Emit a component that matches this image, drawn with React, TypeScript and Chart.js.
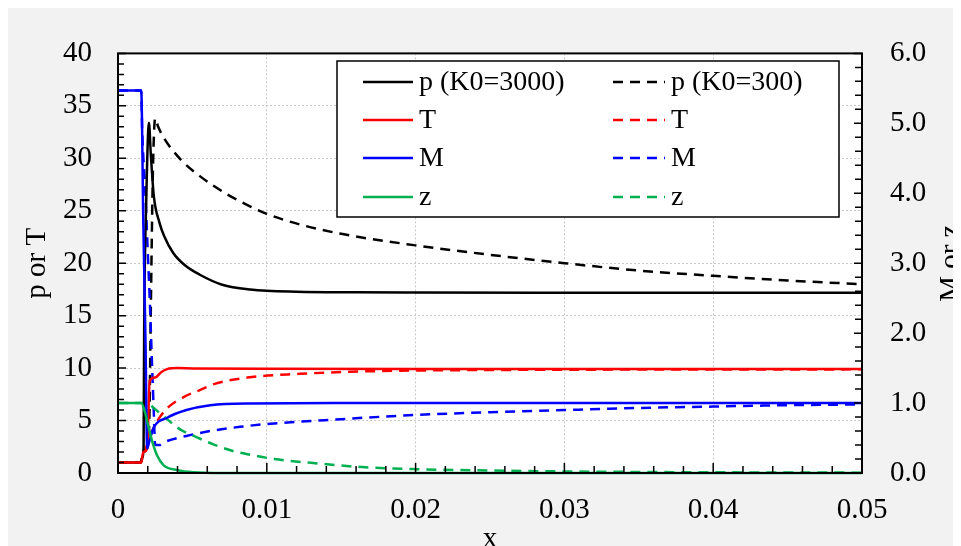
import React, { useEffect, useRef } from "react";
import { Chart, registerables } from "chart.js";

Chart.register(...registerables);

const FONT = "'Liberation Serif', 'Times New Roman', serif";

// ---- data (x in m, p/T on left axis, M/z on right axis) ----
const pHiX = [0, 0.0015, 0.00165, 0.00172, 0.00176, 0.0019, 0.00208, 0.0022, 0.0024, 0.0028, 0.0031, 0.0037, 0.0045, 0.0055, 0.007, 0.0089, 0.012, 0.016, 0.02, 0.03, 0.04, 0.05];
const pHiY = [1, 1, 1.5, 2.6, 14, 26, 33.4, 30.5, 26.5, 23.8, 22.6, 21.0, 19.8, 18.9, 17.95, 17.5, 17.28, 17.22, 17.2, 17.18, 17.18, 17.18];

const pLoX = [0, 0.0015, 0.0017, 0.002, 0.00212, 0.0022, 0.00235, 0.0025, 0.0027, 0.0031, 0.0042, 0.0055, 0.0073, 0.0089, 0.01, 0.0122, 0.015, 0.02, 0.025, 0.03, 0.035, 0.04, 0.045, 0.05];
const pLoY = [1, 1, 1.9, 2.8, 6, 15, 29, 33.8, 33.0, 31.9, 29.9, 28.3, 26.6, 25.4, 24.7, 23.7, 22.8, 21.7, 20.8, 20.0, 19.3, 18.8, 18.35, 18.0];

const tHiX = [0, 0.00155, 0.0017, 0.00196, 0.00213, 0.0025, 0.0029, 0.0033, 0.004, 0.005, 0.01, 0.02, 0.03, 0.04, 0.05];
const tHiY = [1, 1, 2.0, 2.3, 8.8, 9.1, 9.6, 9.9, 10.0, 9.97, 9.93, 9.92, 9.92, 9.92, 9.92];

const tLoX = [0, 0.00155, 0.0017, 0.002, 0.0023, 0.0028, 0.0034, 0.0045, 0.0055, 0.0065, 0.0087, 0.0122, 0.0156, 0.019, 0.025, 0.035, 0.05];
const tLoY = [1, 1, 1.9, 2.8, 4.0, 5.3, 6.3, 7.3, 7.9, 8.5, 9.1, 9.45, 9.65, 9.75, 9.82, 9.86, 9.88];

const mHiX = [0, 0.00156, 0.0017, 0.00185, 0.00196, 0.0021, 0.0024, 0.0033, 0.0046, 0.0062, 0.0089, 0.015, 0.05];
const mHiY = [5.47, 5.47, 3.6, 1.86, 0.35, 0.45, 0.65, 0.79, 0.9, 0.97, 0.995, 1.0, 1.0];

const mLoX = [0, 0.00156, 0.00162, 0.00184, 0.002, 0.00213, 0.00223, 0.0024, 0.0025, 0.0028, 0.0031, 0.0046, 0.0062, 0.0082, 0.01, 0.015, 0.02, 0.025, 0.03, 0.035, 0.04, 0.045, 0.05];
const mLoY = [5.47, 5.47, 4.93, 4.0, 3.16, 2.5, 1.9, 0.9, 0.4, 0.4, 0.44, 0.53, 0.6, 0.66, 0.7, 0.77, 0.83, 0.87, 0.9, 0.93, 0.95, 0.97, 0.98];

const zHiX = [0, 0.00156, 0.0018, 0.00196, 0.00229, 0.00263, 0.00307, 0.004, 0.0051, 0.007, 0.05];
const zHiY = [1, 1, 0.88, 0.74, 0.46, 0.25, 0.11, 0.04, 0.01, 0, 0];

const zLoX = [0, 0.00156, 0.00213, 0.0024, 0.0033, 0.0042, 0.0053, 0.0064, 0.0078, 0.0089, 0.0105, 0.0135, 0.016, 0.02, 0.025, 0.03, 0.035, 0.04, 0.05];
const zLoY = [1, 1, 0.98, 0.93, 0.77, 0.62, 0.51, 0.41, 0.31, 0.26, 0.2, 0.135, 0.09, 0.055, 0.035, 0.022, 0.015, 0.01, 0.005];

const seriesLabels = ["p (K0=3000)", "p (K0=300)", "T", "T", "M", "M", "z", "z"];
const xTicks = [0, 0.01, 0.02, 0.03, 0.04, 0.05];
const axisTitles = { left: "p or T", right: "M or z", bottom: "x" };

const pts = (xs: number[], ys: number[]) => xs.map((x, i) => ({ x, y: ys[i] }));

export default function App() {
  const ref = useRef<HTMLCanvasElement>(null);

  useEffect(() => {
    document.documentElement.style.overflow = "hidden";
    const canvas = ref.current!;
    const W = 953;
    const H = 538;
    const DASH = [10, 7];

    const deco = {
      id: "deco",
      beforeDraw(chart: any) {
        const { ctx, chartArea: a } = chart;
        ctx.save();
        ctx.fillStyle = "#f2f2f2";
        ctx.fillRect(0, 0, W, H);
        ctx.fillStyle = "#ffffff";
        ctx.fillRect(a.left, a.top, a.right - a.left, a.bottom - a.top);
        ctx.restore();
      },
      afterDatasetsDraw(chart: any) {
        const { ctx, chartArea: a, scales } = chart;
        ctx.save();
        // frame
        ctx.strokeStyle = "#000";
        ctx.lineWidth = 2;
        ctx.setLineDash([]);
        ctx.strokeRect(a.left, a.top, a.right - a.left, a.bottom - a.top);
        // ticks
        ctx.lineWidth = 1.5;
        ctx.beginPath();
        for (let i = 0; i <= 25; i++) {
          const px = scales.x.getPixelForValue(i * 0.002);
          const len = i % 5 === 0 ? 10 : 7;
          ctx.moveTo(px, a.bottom);
          ctx.lineTo(px, a.bottom - len);
        }
        for (let i = 0; i <= 40; i++) {
          const py = scales.y.getPixelForValue(i);
          const len = i % 5 === 0 ? 8 : 6;
          ctx.moveTo(a.left, py);
          ctx.lineTo(a.left + len, py);
        }
        for (let i = 0; i <= 30; i++) {
          const py = scales.y1.getPixelForValue(i * 0.2);
          const len = i % 5 === 0 ? 8 : 7;
          ctx.moveTo(a.right, py);
          ctx.lineTo(a.right - len, py);
        }
        ctx.stroke();

        // axis titles
        ctx.fillStyle = "#000";
        ctx.font = `29px ${FONT}`;
        ctx.textBaseline = "alphabetic";
        ctx.textAlign = "center";
        const cy = (a.top + a.bottom) / 2;
        ctx.save();
        ctx.translate(37, cy);
        ctx.rotate(-Math.PI / 2);
        ctx.fillText(axisTitles.left, 0, 0);
        ctx.restore();
        ctx.save();
        ctx.translate(951, cy);
        ctx.rotate(-Math.PI / 2);
        ctx.fillText(axisTitles.right, 0, 0);
        ctx.restore();
        ctx.fillText(axisTitles.bottom, (a.left + a.right) / 2, 539);

        // legend
        const bx = 329, by = 53, bw = 502, bh = 156;
        ctx.fillStyle = "#fff";
        ctx.fillRect(bx, by, bw, bh);
        ctx.strokeStyle = "#000";
        ctx.lineWidth = 1.5;
        ctx.strokeRect(bx, by, bw, bh);
        ctx.font = `28px ${FONT}`;
        ctx.textAlign = "left";
        ctx.textBaseline = "middle";
        const rowY = [74, 112, 150, 189];
        chart.data.datasets.forEach((ds: any, i: number) => {
          const col = i % 2;
          const row = Math.floor(i / 2);
          const y = rowY[row];
          const x0 = col === 0 ? 355 : 605;
          const x1 = col === 0 ? 405 : 657;
          ctx.strokeStyle = ds.borderColor;
          ctx.lineWidth = 2.5;
          ctx.setLineDash(ds.borderDash || []);
          ctx.beginPath();
          ctx.moveTo(x0, y);
          ctx.lineTo(x1, y);
          ctx.stroke();
          ctx.setLineDash([]);
          ctx.fillStyle = "#000";
          ctx.fillText(ds.label, x1 + 6, y + 1);
        });
        ctx.restore();
      },
    };

    const mk = (i: number, xs: number[], ys: number[], color: string, dashed: boolean, axis: string, order: number) => ({
      label: seriesLabels[i],
      data: pts(xs, ys),
      borderColor: color,
      backgroundColor: color,
      borderWidth: 2.5,
      borderDash: dashed ? DASH : [],
      pointRadius: 0,
      cubicInterpolationMode: "monotone" as const,
      fill: false,
      yAxisID: axis,
      order,
      clip: 4,
    });

    const chart = new Chart(canvas, {
      type: "line",
      data: {
        datasets: [
          mk(0, pHiX, pHiY, "#000000", false, "y", 4),
          mk(1, pLoX, pLoY, "#000000", true, "y", 8),
          mk(2, tHiX, tHiY, "#ff0000", false, "y", 3),
          mk(3, tLoX, tLoY, "#ff0000", true, "y", 7),
          mk(4, mHiX, mHiY, "#0000ff", false, "y1", 2),
          mk(5, mLoX, mLoY, "#0000ff", true, "y1", 6),
          mk(6, zHiX, zHiY, "#00b050", false, "y1", 1),
          mk(7, zLoX, zLoY, "#00b050", true, "y1", 5),
        ] as any,
      },
      options: {
        responsive: false,
        animation: false,
        devicePixelRatio: 1,
        layout: { padding: { top: 35, left: 0, right: 0, bottom: 0 } },
        plugins: { legend: { display: false }, tooltip: { enabled: false } },
        scales: {
          x: {
            type: "linear",
            min: 0,
            max: 0.05,
            afterBuildTicks: (s: any) => { s.ticks = xTicks.map((v) => ({ value: v })); },
            afterFit: (s: any) => { s.height = 73; },
            ticks: {
              autoSkip: false,
              maxRotation: 0,
              padding: 20,
              color: "#000",
              font: { family: FONT, size: 29 },
              callback: (v: any) => (Number(v) === 0 ? "0" : Number(v).toFixed(2)),
            },
            grid: { color: "#c8c8c8", lineWidth: 1, drawTicks: false },
            border: { display: false, dash: [2, 2] },
          },
          y: {
            type: "linear",
            position: "left",
            min: 0,
            max: 40,
            afterFit: (s: any) => { s.width = 110; },
            ticks: { stepSize: 5, padding: 26, color: "#000", font: { family: FONT, size: 29 } },
            grid: { color: "#c8c8c8", lineWidth: 1, drawTicks: false },
            border: { display: false, dash: [2, 2] },
          },
          y1: {
            type: "linear",
            position: "right",
            min: 0,
            max: 6,
            afterFit: (s: any) => { s.width = 99; },
            ticks: {
              stepSize: 1,
              padding: 28,
              color: "#000",
              font: { family: FONT, size: 29 },
              callback: (v: any) => Number(v).toFixed(1),
            },
            grid: { display: false, drawTicks: false },
            border: { display: false },
          },
        },
      },
      plugins: [deco],
    } as any);

    return () => chart.destroy();
  }, []);

  return (
    <div style={{ width: 953, height: 538 }}>
      <canvas ref={ref} width={953} height={538} style={{ display: "block", width: 953, height: 538 }} />
    </div>
  );
}
